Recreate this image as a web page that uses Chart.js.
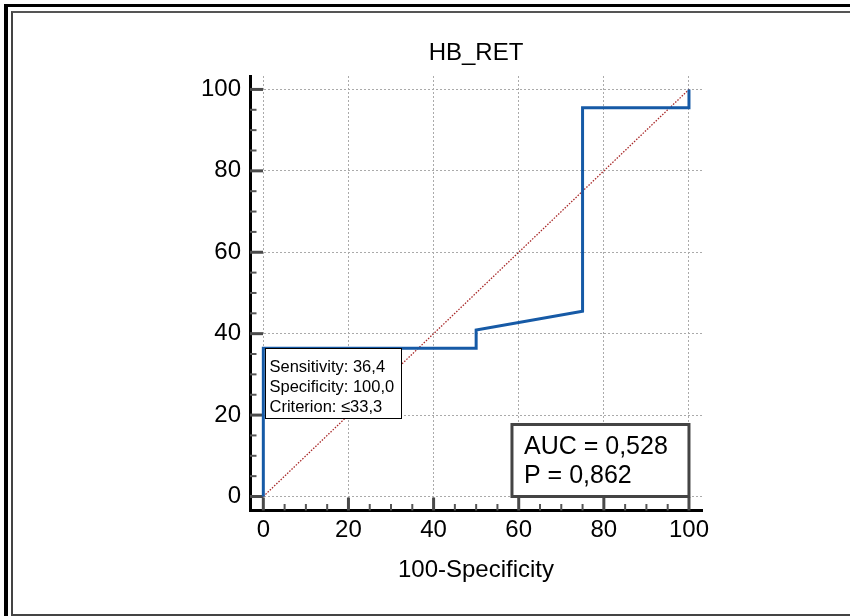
<!DOCTYPE html>
<html><head><meta charset="utf-8">
<script src="https://cdn.jsdelivr.net/npm/chart.js@4"></script>
<style>
html,body{margin:0;padding:0;background:#fff;}
#wrap{position:relative;width:850px;height:616px;overflow:hidden;background:#fff;}
#c{position:absolute;left:0;top:0;}
.f1{position:absolute;left:4px;top:4px;width:900px;height:700px;border-left:4px solid #000;border-top:3px solid #000;box-sizing:border-box;pointer-events:none;}
.f2{position:absolute;left:11px;top:11px;width:900px;height:605px;border-left:2px solid #444;border-top:2px solid #555;border-bottom:2px solid #444;box-sizing:border-box;pointer-events:none;}
</style></head>
<body>
<div id="wrap">
<canvas id="c" width="850" height="616"></canvas>
<div class="f1"></div><div class="f2"></div>
</div>
<script>
// ---- data ----
const rocX = [0, 0, 50, 50, 75, 75, 100, 100];
const rocY = [0, 36.4, 36.4, 40.9, 45.5, 95.5, 95.5, 100];
const diagX = [0, 100];
const diagY = [0, 100];
const minorTickValues = [0,5,10,15,20,25,30,35,40,45,50,55,60,65,70,75,80,85,90,95,100];
const majorTickValues = [0,20,40,60,80,100];
const chartTitle = 'HB_RET';
const xAxisTitle = '100-Specificity';
const criterionPoint = [0, 36.4];
const criterionLines = ['Sensitivity: 36,4', 'Specificity: 100,0', 'Criterion: \u226433,3'];
const aucLines = ['AUC = 0,528', 'P = 0,862'];

const FONT = "'Liberation Sans', Arial, Helvetica, sans-serif";

const toPts = (xs, ys) => xs.map((x, i) => ({x: x, y: ys[i]}));

const decorPlugin = {
  id: 'decor',
  beforeDatasetsDraw(chart) {
    const ctx = chart.ctx, xs = chart.scales.x, ys = chart.scales.y, ca = chart.chartArea;
    ctx.save();
    ctx.lineCap = 'butt';
    minorTickValues.forEach(v => {
      const major = majorTickValues.includes(v);
      ctx.strokeStyle = major ? '#4a4a4a' : '#555';
      ctx.lineWidth = major ? 3 : 2;
      const len = major ? 13 : 6.5;
      const px = xs.getPixelForValue(v);
      ctx.beginPath(); ctx.moveTo(px, ca.bottom); ctx.lineTo(px, ca.bottom - len); ctx.stroke();
      const py = ys.getPixelForValue(v);
      ctx.beginPath(); ctx.moveTo(ca.left, py); ctx.lineTo(ca.left + len, py); ctx.stroke();
    });
    ctx.restore();
  },
  afterDatasetsDraw(chart) {
    const ctx = chart.ctx, xs = chart.scales.x, ys = chart.scales.y;
    ctx.save();
    // criterion box
    ctx.font = '16.5px ' + FONT;
    let w = 0;
    criterionLines.forEach(t => { w = Math.max(w, ctx.measureText(t).width); });
    const bx = Math.round(xs.getPixelForValue(criterionPoint[0])) + 2.5;
    const by = Math.round(ys.getPixelForValue(criterionPoint[1])) + 0.5;
    const bw = Math.round(w + 11), bh = 70;
    ctx.fillStyle = '#fff';
    ctx.fillRect(bx, by, bw, bh);
    ctx.strokeStyle = '#000'; ctx.lineWidth = 1;
    ctx.strokeRect(bx, by, bw, bh);
    ctx.fillStyle = '#000'; ctx.textBaseline = 'alphabetic'; ctx.textAlign = 'left';
    criterionLines.forEach((t, i) => ctx.fillText(t, bx + 4, by + 23 + i * 20));
    // AUC box
    const right = xs.getPixelForValue(100), bottom = ys.getPixelForValue(0);
    const aw = 177, ah = 72;
    ctx.fillStyle = '#fff';
    ctx.fillRect(right - aw, bottom - ah, aw, ah);
    ctx.strokeStyle = '#444'; ctx.lineWidth = 3;
    ctx.strokeRect(right - aw, bottom - ah, aw, ah);
    ctx.fillStyle = '#000';
    ctx.font = '25px ' + FONT;
    aucLines.forEach((t, i) => ctx.fillText(t, right - aw + 12, bottom - ah + 30 + i * 29));
    ctx.restore();
  }
};

new Chart(document.getElementById('c'), {
  type: 'scatter',
  data: {
    datasets: [
      { label: 'ROC', data: toPts(rocX, rocY), showLine: true, borderColor: '#165aa6', borderWidth: 3,
        pointRadius: 0, fill: false, tension: 0, borderJoinStyle: 'miter', borderCapStyle: 'butt' },
      { label: 'Reference', data: toPts(diagX, diagY), showLine: true, borderColor: '#a82828', borderWidth: 1.3,
        borderDash: [1.5, 1.5], pointRadius: 0, fill: false }
    ]
  },
  options: {
    responsive: false,
    animation: false,
    devicePixelRatio: 1,
    layout: { padding: { left: 200, right: 148, top: 0, bottom: 30.5 } },
    plugins: {
      legend: { display: false },
      tooltip: { enabled: false },
      title: { display: true, text: chartTitle, fullSize: false, color: '#000',
        font: { family: FONT, size: 24, weight: 'normal' }, padding: { top: 39, bottom: 8.2 } }
    },
    scales: {
      x: {
        type: 'linear', position: 'bottom', min: -3.13, max: 103.06,
        afterBuildTicks: s => { s.ticks = majorTickValues.map(v => ({ value: v })); },
        afterFit: s => { s.height = 75; s.paddingLeft = 0; s.paddingRight = 0; },
        ticks: { color: '#000', font: { family: FONT, size: 24 }, padding: 5, maxRotation: 0, autoSkip: false },
        grid: { color: '#aaaaaa', lineWidth: 1, drawTicks: false },
        border: { display: true, color: '#000', width: 3, dash: [2, 2] },
        title: { display: true, text: xAxisTitle, color: '#000', font: { family: FONT, size: 24 }, padding: { top: 0, bottom: 1 } }
      },
      y: {
        type: 'linear', position: 'left', min: -3.44, max: 103.3,
        afterBuildTicks: s => { s.ticks = majorTickValues.map(v => ({ value: v })); },
        afterFit: s => { s.width = 50; s.paddingTop = 0; s.paddingBottom = 0; },
        ticks: { color: '#000', font: { family: FONT, size: 24 }, padding: 9 },
        grid: { color: '#aaaaaa', lineWidth: 1, drawTicks: false },
        border: { display: true, color: '#000', width: 3, dash: [2, 2] }
      }
    }
  },
  plugins: [decorPlugin]
});
</script>
</body></html>
